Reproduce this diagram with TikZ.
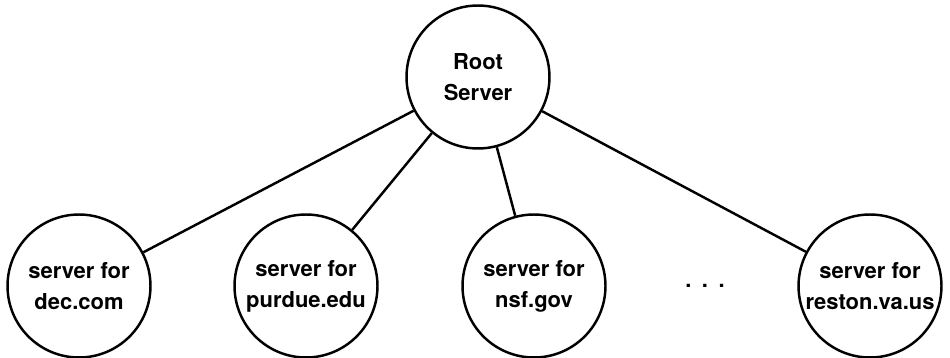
\documentclass[tikz,border=0pt]{standalone}
\usepackage{fontspec}
\setmainfont{TeX Gyre Heros}
\usepackage{tikz}
\usetikzlibrary{positioning}

\tikzset{
  server/.style={circle,draw,line width=1.4pt,minimum size=2.86cm,inner sep=0pt,
    align=center,font=\bfseries\fontsize{12.5}{17.6}\selectfont},
  link/.style={line width=1.4pt}
}

\begin{document}
\begin{tikzpicture}[x=0.02cm,y=0.02cm]
  \useasboundingbox (0,0) rectangle (950,358);
  \node[server] (root) at (478,281) {Root\\Server};
  \node[server] (dec) at (79,72) {server for\\dec.com};
  \node[server] (purdue) at (306,72) {server for\\purdue.edu};
  \node[server] (nsf) at (534,72) {server for\\nsf.gov};
  \node[server] (reston) at (870,72) {server for\\reston.va.us};
  \node[font=\bfseries\fontsize{12.5}{14}\selectfont] (dots) at (705,72) {.\hspace{6pt}.\hspace{6pt}.};
  % links from the root
  \foreach \n in {dec,purdue,nsf,reston}
    \draw[link] (root) -- (\n);
\end{tikzpicture}
\end{document}
